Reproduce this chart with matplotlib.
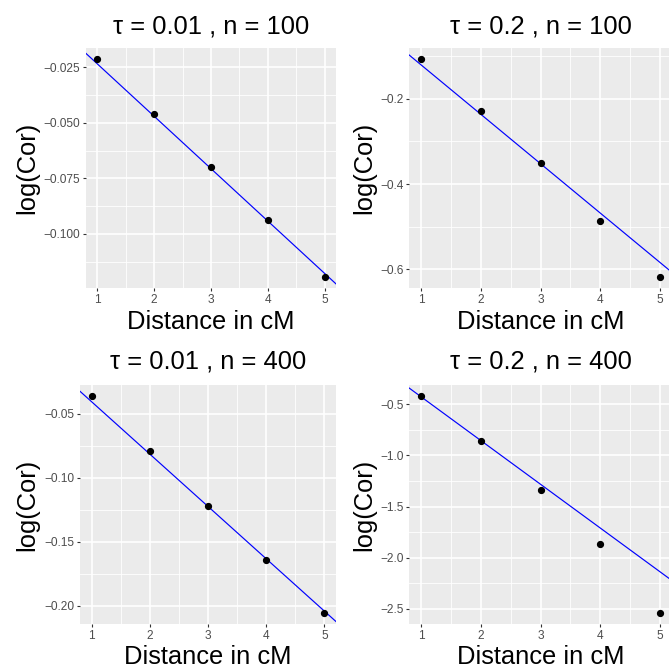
import matplotlib
matplotlib.use('Agg')
import matplotlib.pyplot as plt
from matplotlib.ticker import FixedLocator

plt.rcParams['font.family'] = ['Liberation Sans', 'DejaVu Sans']

W, H = 669, 668

distance = [1, 2, 3, 4, 5]

titles = ['τ = 0.01 , n = 100', 'τ = 0.2 , n = 100',
          'τ = 0.01 , n = 400', 'τ = 0.2 , n = 400']

logcor_t001_n100 = [-0.0213, -0.0459, -0.0697, -0.0937, -0.1194]
logcor_t02_n100 = [-0.1059, -0.2282, -0.3506, -0.4863, -0.6188]
logcor_t001_n400 = [-0.0362, -0.0788, -0.1220, -0.1639, -0.2056]
logcor_t02_n400 = [-0.418, -0.860, -1.338, -1.867, -2.542]

# reference lines: intercept and slope
line_intercepts = [0.0, -0.0035, 0.0, 0.002]
line_slopes = [-0.02355, -0.1162, -0.0408, -0.428]

yticks_1 = [-0.025, -0.050, -0.075, -0.100]
yticks_2 = [-0.2, -0.4, -0.6]
yticks_3 = [-0.05, -0.10, -0.15, -0.20]
yticks_4 = [-0.5, -1.0, -1.5, -2.0, -2.5]
ylabels_1 = ['−0.025', '−0.050', '−0.075', '−0.100']
ylabels_2 = ['−0.2', '−0.4', '−0.6']
ylabels_3 = ['−0.05', '−0.10', '−0.15', '−0.20']
ylabels_4 = ['−0.5', '−1.0', '−1.5', '−2.0', '−2.5']
xticks = [1, 2, 3, 4, 5]

series = [logcor_t001_n100, logcor_t02_n100, logcor_t001_n400, logcor_t02_n400]
yticks = [yticks_1, yticks_2, yticks_3, yticks_4]
ylabels = [ylabels_1, ylabels_2, ylabels_3, ylabels_4]

# panel boxes in pixels: left, top, right, bottom
boxes = [(86, 48, 336, 288), (409, 48, 672, 288),
         (80, 385, 336, 624), (409, 385, 672, 624)]

fig = plt.figure(figsize=(W / 100, H / 100), dpi=100)

for i in range(4):
    l, t, r, b = boxes[i]
    ax = fig.add_axes([l / W, 1 - b / H, (r - l) / W, (b - t) / H])
    ax.set_facecolor('#EBEBEB')
    for s in ax.spines.values():
        s.set_visible(False)

    ys = series[i]
    lo, hi = min(ys), max(ys)
    pad = (hi - lo) * 0.05
    ax.set_xlim(0.8, 5.2)
    ax.set_ylim(lo - pad, hi + pad)

    ax.xaxis.set_major_locator(FixedLocator(xticks))
    ax.set_xticklabels([str(x) for x in xticks])
    ax.xaxis.set_minor_locator(FixedLocator([1.5, 2.5, 3.5, 4.5]))
    yt = yticks[i]
    step = yt[0] - yt[1]
    ax.yaxis.set_major_locator(FixedLocator(yt))
    ax.set_yticklabels(ylabels[i])
    minors = [yt[0] + step / 2] + [v - step / 2 for v in yt]
    ax.yaxis.set_minor_locator(FixedLocator(minors))

    ax.grid(which='major', color='white', lw=1.2)
    ax.grid(which='minor', color='white', lw=0.6)
    ax.set_axisbelow(True)
    ax.tick_params(which='major', length=2.4, width=0.8, color='#333333',
                   labelsize=8.6, labelcolor='#4D4D4D', pad=1.6)
    ax.tick_params(which='minor', length=0)

    ax.axline((0, line_intercepts[i]), slope=line_slopes[i], color='#0000FF', lw=0.85, zorder=2)
    ax.plot(distance, ys, 'o', color='black', markersize=4.2, zorder=3)

    cx = (l + r) / 2
    title_base = 33.3 if i < 2 else 368.3
    fig.text(cx / W, 1 - title_base / H, titles[i], ha='center', va='baseline', fontsize=18.4)
    xl_base = 329.3 if i < 2 else 664.0
    fig.text(cx / W, 1 - xl_base / H, 'Distance in cM', ha='center', va='baseline', fontsize=18.4)
    ylx = 27.5 if i % 2 == 0 else 364
    fig.text(ylx / W, 1 - ((t + b) / 2) / H, 'log(Cor)', ha='center', va='center',
             rotation=90, fontsize=18.4)

fig.savefig('out.png', dpi=100)
